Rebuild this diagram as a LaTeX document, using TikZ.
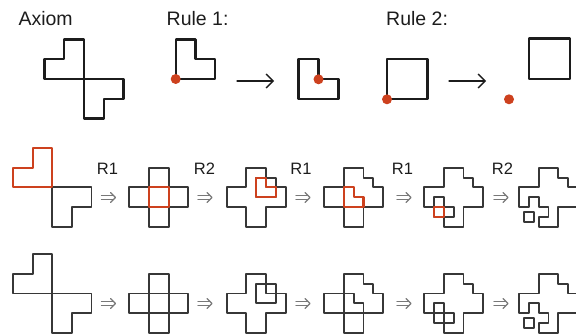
\documentclass[tikz,border=0pt]{standalone}
\usepackage{fontspec}
\setmainfont{Liberation Sans}
\usetikzlibrary{arrows.meta}
\definecolor{redc}{RGB}{205,65,30}
\definecolor{inkc}{RGB}{28,28,28}
\definecolor{grayc}{RGB}{55,55,55}
\definecolor{arrc}{RGB}{120,120,120}
\begin{document}
\begin{tikzpicture}[x=1pt,y=-1pt, line join=round, line cap=round,
  topline/.style={draw=inkc, line width=2.3pt},
  shapeline/.style={draw=grayc, line width=1.9pt},
  redline/.style={draw=redc, line width=2.1pt},
  reddot/.style={circle, fill=redc, draw=none, minimum size=10pt, inner sep=0pt},
  rulearrow/.style={draw=inkc, line width=1.3pt, -{Straight Barb[length=7pt,width=14pt,line width=1.3pt]}},
  implies/.style={draw=arrc, line width=1.3pt},
  toplabel/.style={font=\fontsize{19.5}{22}\selectfont, text=inkc, inner sep=0pt, anchor=base west},
  rlabel/.style={font=\fontsize{16.5}{19}\selectfont, text=inkc, inner sep=0pt, anchor=base}]

\path[use as bounding box] (0,0) rectangle (576,334);
\clip (0,0) rectangle (576,334);

% ---------- top row: labels ----------
\node[toplabel] (laxiom) at (18.3,25.7) {Axiom};
\node[toplabel] (lrule1) at (166.5,25.7) {Rule 1:};
\node[toplabel] (lrule2) at (386,25.7) {Rule 2:};

% ---------- top row: axiom ----------
\begin{scope}[shift={(84,79)}, x=9.9pt, y=9.9pt]
  \draw[topline] (0,0) -- (0,4) -- (-2,4) -- (-2,2) -- (-4,2) -- (-4,0) -- (4,0) -- (4,-2) -- (2,-2) -- (2,-4) -- (0,-4) -- cycle;
\end{scope}

% ---------- rule 1 ----------
\begin{scope}[shift={(175.7,79)}, x=19.7pt, y=19.7pt]
  \draw[topline] (0,0) -- (2,0) -- (2,1) -- (1,1) -- (1,2) -- (0,2) -- cycle;
  \node[reddot] (dot1) at (0,0) {};
\end{scope}
\coordinate (r1s) at (237,81);
\coordinate (r1e) at (274,81);
\draw[rulearrow] (r1s) -- (r1e);
\begin{scope}[shift={(298.5,99.3)}, x=20pt, y=20pt]
  \draw[topline] (0,0) -- (2,0) -- (2,1) -- (1,1) -- (1,2) -- (0,2) -- cycle;
  \node[reddot] (dot2) at (1,1) {};
\end{scope}

% ---------- rule 2 ----------
\begin{scope}[shift={(387,99.3)}, x=20.25pt, y=20.25pt]
  \draw[topline] (0,0) rectangle (2,2);
  \node[reddot] (dot3) at (0,0) {};
\end{scope}
\coordinate (r2s) at (449,81);
\coordinate (r2e) at (486,81);
\draw[rulearrow] (r2s) -- (r2e);
\begin{scope}[shift={(509,99.3)}, x=20.25pt, y=20.25pt]
  \draw[topline] (1,1) rectangle (3,3);
  \node[reddot] (dot4) at (0,0) {};
\end{scope}

% ---------- row 2 : labels and arrows ----------
\node[rlabel] (lab1) at (107.5,175) {R1};
\node[rlabel] (lab2) at (204.5,175) {R2};
\node[rlabel] (lab3) at (301,175) {R1};
\node[rlabel] (lab4) at (402.5,175) {R1};
\node[rlabel] (lab5) at (502.5,175) {R2};

\foreach \xs/\xe/\n in {101.5/115.5/1, 198/212/2, 296/310/3, 397/411/4, 494/508/5}{
  \foreach \yy/\r in {197.5/a, 303.5/b}{
    \coordinate (\r\n s) at (\xs,\yy);
    \coordinate (\r\n e) at (\xe,\yy);
    \draw[implies] ([yshift=2.3pt]\r\n s) -- ([yshift=2.3pt,xshift=-2.5pt]\r\n e);
    \draw[implies] ([yshift=-2.3pt]\r\n s) -- ([yshift=-2.3pt,xshift=-2.5pt]\r\n e);
    \draw[implies] ([xshift=-5pt,yshift=5pt]\r\n e) -- (\r\n e) -- ([xshift=-5pt,yshift=-5pt]\r\n e);
  }
}

% ---------- row 2 shapes ----------
\begin{scope}[shift={(52.3,187.4)}, x=9.8pt, y=9.8pt]
  \draw[shapeline] (0,0) -- (4,0) -- (4,-2) -- (2,-2) -- (2,-4) -- (0,-4) -- cycle;
  \draw[redline] (0,0) -- (0,4) -- (-2,4) -- (-2,2) -- (-4,2) -- (-4,0) -- cycle;
\end{scope}
\begin{scope}[shift={(158.8,197.2)}, x=9.8pt, y=9.8pt]
  \draw[shapeline] (-1,-3) rectangle (1,3);
  \draw[shapeline] (-3,-1) rectangle (3,1);
  \draw[redline] (-1,-1) rectangle (1,1);
\end{scope}
\begin{scope}[shift={(256.2,197.2)}, x=9.8pt, y=9.8pt]
  \draw[shapeline] (-1,3) -- (1,3) -- (1,1) -- (3,1) -- (3,-1) -- (1,-1) -- (1,-3) -- (-1,-3) -- (-1,-1) -- (-3,-1) -- (-3,1) -- (-1,1) -- cycle;
  \draw[shapeline] (0,0) rectangle (2,2);
  \draw[redline] (0,0) -- (2,0) -- (2,1) -- (1,1) -- (1,2) -- (0,2) -- cycle;
\end{scope}
\begin{scope}[shift={(353.7,197.2)}, x=9.8pt, y=9.8pt]
  \draw[shapeline] (-1,3) -- (1,3) -- (1,2) -- (2,2) -- (2,1) -- (3,1) -- (3,-1) -- (1,-1) -- (1,-3) -- (-1,-3) -- (-1,-1) -- (-3,-1) -- (-3,1) -- (-1,1) -- cycle;
  \draw[redline] (-1,-1) -- (1,-1) -- (1,0) -- (0,0) -- (0,1) -- (-1,1) -- cycle;
\end{scope}
\begin{scope}[shift={(453.7,197.2)}, x=9.8pt, y=9.8pt]
  \draw[shapeline] (-1,3) -- (1,3) -- (1,2) -- (2,2) -- (2,1) -- (3,1) -- (3,-1) -- (1,-1) -- (1,-3) -- (-1,-3) -- (-1,-1) -- (-3,-1) -- (-3,1) -- (-1,1) -- cycle;
  \draw[shapeline] (-2,-2) -- (0,-2) -- (0,-1) -- (-1,-1) -- (-1,0) -- (-2,0) -- cycle;
  \draw[redline] (-2,-2) rectangle (-1,-1);
\end{scope}
\begin{scope}[shift={(548.5,197.2)}, x=9.8pt, y=9.8pt]
  \draw[shapeline] (-1,3) -- (1,3) -- (1,2) -- (2,2) -- (2,1) -- (3,1) -- (3,-1) -- (1,-1) -- (1,-3) -- (-1,-3) -- (-1,-2) -- (0,-2) -- (0,-1) -- (-1,-1) -- (-1,0) -- (-2,0) -- (-2,-1) -- (-3,-1) -- (-3,1) -- (-1,1) -- cycle;
  \draw[shapeline] (-2.5,-2.5) rectangle (-1.5,-1.5);
\end{scope}

% ---------- row 3 shapes ----------
\begin{scope}[shift={(52.3,293.5)}, x=9.8pt, y=9.8pt]
  \draw[shapeline] (0,0) -- (0,4) -- (-2,4) -- (-2,2) -- (-4,2) -- (-4,0) -- (4,0) -- (4,-2) -- (2,-2) -- (2,-4) -- (0,-4) -- cycle;
\end{scope}
\begin{scope}[shift={(158.8,303.3)}, x=9.8pt, y=9.8pt]
  \draw[shapeline] (-1,-3) rectangle (1,3);
  \draw[shapeline] (-3,-1) rectangle (3,1);
\end{scope}
\begin{scope}[shift={(256.2,303.3)}, x=9.8pt, y=9.8pt]
  \draw[shapeline] (-1,3) -- (1,3) -- (1,1) -- (3,1) -- (3,-1) -- (1,-1) -- (1,-3) -- (-1,-3) -- (-1,-1) -- (-3,-1) -- (-3,1) -- (-1,1) -- cycle;
  \draw[shapeline] (0,0) rectangle (2,2);
\end{scope}
\begin{scope}[shift={(353.7,303.3)}, x=9.8pt, y=9.8pt]
  \draw[shapeline] (-1,3) -- (1,3) -- (1,2) -- (2,2) -- (2,1) -- (3,1) -- (3,-1) -- (1,-1) -- (1,-3) -- (-1,-3) -- (-1,-1) -- (-3,-1) -- (-3,1) -- (-1,1) -- cycle;
  \draw[shapeline] (-1,-1) -- (1,-1) -- (1,0) -- (0,0) -- (0,1) -- (-1,1) -- cycle;
\end{scope}
\begin{scope}[shift={(453.7,303.3)}, x=9.8pt, y=9.8pt]
  \draw[shapeline] (-1,3) -- (1,3) -- (1,2) -- (2,2) -- (2,1) -- (3,1) -- (3,-1) -- (1,-1) -- (1,-3) -- (-1,-3) -- (-1,-1) -- (-3,-1) -- (-3,1) -- (-1,1) -- cycle;
  \draw[shapeline] (-2,-2) -- (0,-2) -- (0,-1) -- (-1,-1) -- (-1,0) -- (-2,0) -- cycle;
\end{scope}
\begin{scope}[shift={(548.5,303.3)}, x=9.8pt, y=9.8pt]
  \draw[shapeline] (-1,3) -- (1,3) -- (1,2) -- (2,2) -- (2,1) -- (3,1) -- (3,-1) -- (1,-1) -- (1,-3) -- (-1,-3) -- (-1,-2) -- (0,-2) -- (0,-1) -- (-1,-1) -- (-1,0) -- (-2,0) -- (-2,-1) -- (-3,-1) -- (-3,1) -- (-1,1) -- cycle;
  \draw[shapeline] (-2.5,-2.5) rectangle (-1.5,-1.5);
\end{scope}

\end{tikzpicture}
\end{document}
